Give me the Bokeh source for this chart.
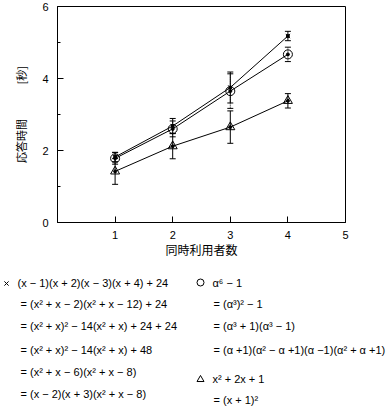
from bokeh.plotting import figure
from bokeh.layouts import column
from bokeh.models import Range1d, FixedTicker, Whisker, TeeHead, ColumnDataSource
from bokeh.core.properties import value
from bokeh.embed import file_html
from bokeh.resources import INLINE

# ---- data ----
users = [1, 2, 3, 4]
resp_x = [1.82, 2.68, 3.75, 5.18]
err_x = [0.13, 0.21, 0.43, 0.13]
resp_o = [1.78, 2.60, 3.65, 4.67]
err_o = [0.16, 0.22, 0.48, 0.20]
resp_t = [1.42, 2.12, 2.65, 3.38]
err_t = [0.36, 0.35, 0.45, 0.20]
x_ticks = [1, 2, 3, 4, 5]
y_ticks = [0, 2, 4, 6]
y_minor = [1, 3, 5]
x_label = "同時利用者数"
y_label = "応答時間" + "\u00a0" * 14 + "[秒]"

left_lines = [
    "(x − 1)(x + 2)(x − 3)(x + 4) + 24",
    "= (x² + x − 2)(x² + x − 12) + 24",
    "= (x² + x)² − 14(x² + x) + 24 + 24",
    "= (x² + x)² − 14(x² + x) + 48",
    "= (x² + x − 6)(x² + x − 8)",
    "= (x − 2)(x + 3)(x² + x − 8)",
]
right_lines_o = [
    "α⁶ − 1",
    "= (α³)² − 1",
    "= (α³ + 1)(α³ − 1)",
    "= (α +1)(α² − α +1)(α −1)(α² + α +1)",
]
right_lines_t = [
    "x² + 2x + 1",
    "= (x + 1)²",
]

# ---- layout (px) ----
W = 390
H1 = 270          # chart part
H2 = 143          # formula part
FL, FR, FT, FB = 57, 345, 6, 222
X0, X1, Y0, Y1 = 0, 5, 0, 6

p = figure(width=W, height=H1, output_backend="svg", toolbar_location=None,
           x_range=Range1d(X0, X1), y_range=Range1d(Y0, Y1),
           min_border_left=FL, min_border_right=W - FR,
           min_border_top=FT, min_border_bottom=H1 - FB)
p.frame_align = False
p.grid.visible = False
p.outline_line_color = "black"
p.outline_line_width = 1
p.background_fill_color = "white"
p.border_fill_color = "white"

p.xaxis.ticker = FixedTicker(ticks=x_ticks)
p.yaxis.ticker = FixedTicker(ticks=y_ticks, minor_ticks=y_minor)
for ax in (p.xaxis[0], p.yaxis[0]):
    ax.axis_line_color = "black"
    ax.major_tick_line_color = "black"
    ax.minor_tick_line_color = "black"
    ax.major_tick_in = 6
    ax.major_tick_out = 0
    ax.minor_tick_in = 3
    ax.minor_tick_out = 0
    ax.major_label_text_font = "Liberation Sans"
    ax.major_label_text_font_size = "11px"
    ax.major_label_text_color = "black"
    ax.axis_label_text_font = "Noto Sans CJK JP"
    ax.axis_label_text_font_style = "normal"
    ax.axis_label_text_color = "black"
p.xaxis.axis_label_text_font_size = "12px"
p.yaxis.axis_label_text_font_size = "11px"
p.xaxis.minor_tick_line_color = None
p.xaxis.major_label_standoff = 8
p.yaxis.major_label_standoff = 9
p.xaxis.axis_label = x_label
p.yaxis.axis_label = y_label
p.xaxis.axis_label_standoff = -1
p.yaxis.axis_label_standoff = 10

series = [
    (resp_x, err_x, "x", 6, None),
    (resp_o, err_o, "circle", 9, "1 1"),
    (resp_t, err_t, "triangle", 9, None),
]
for ys, es, mk, sz, dash in series:
    src = ColumnDataSource(dict(x=users, y=ys,
                                lo=[a - b for a, b in zip(ys, es)],
                                hi=[a + b for a, b in zip(ys, es)]))
    w = Whisker(base="x", upper="hi", lower="lo", source=src,
                line_color="black", line_width=1,
                line_dash=dash if dash else "solid",
                upper_head=TeeHead(size=6, line_color="black", line_width=1),
                lower_head=TeeHead(size=6, line_color="black", line_width=1))
    p.add_layout(w)
    p.line("x", "y", source=src, line_color="black", line_width=1)
    p.scatter("x", "y", source=src, marker="circle", size=3,
              fill_color="black", line_color="black")
    p.scatter("x", "y", source=src, marker=mk, size=sz,
              line_color="black", fill_alpha=0, line_width=1)

# ---- formula panel: coordinates are page pixels (y downwards) ----
q = figure(width=W, height=H2, output_backend="svg", toolbar_location=None,
           x_range=Range1d(0, W), y_range=Range1d(H1 + H2, H1),
           min_border=0, outline_line_color=None)
q.frame_align = False
q.axis.visible = False
q.grid.visible = False
q.background_fill_color = "white"
q.border_fill_color = "white"

left_y = [282, 303, 325, 349, 371, 393]
left_x = [17] + [20] * (len(left_lines) - 1)
ro_y = [282, 303, 325, 349]
ro_x = [212] + [213] * (len(right_lines_o) - 1)
rt_y = [378, 399]
rt_x = [212, 213]

txt = ColumnDataSource(dict(
    x=left_x + ro_x + rt_x,
    y=left_y + ro_y + rt_y,
    t=left_lines + right_lines_o + right_lines_t,
))
q.text("x", "y", text="t", source=txt, text_font=value("Liberation Sans"),
       text_font_size="11px", text_baseline="middle", text_align="left",
       text_color="black")

sym = ColumnDataSource(dict(x=[6, 200, 200], y=[283, 282, 379],
                            m=["x", "circle", "triangle"], s=[6, 7, 7]))
q.scatter("x", "y", source=sym, marker="m", size="s",
          line_color="black", fill_alpha=0, line_width=1)

layout = column(p, q, spacing=0)
open("out.html", "w").write(file_html(layout, INLINE))
